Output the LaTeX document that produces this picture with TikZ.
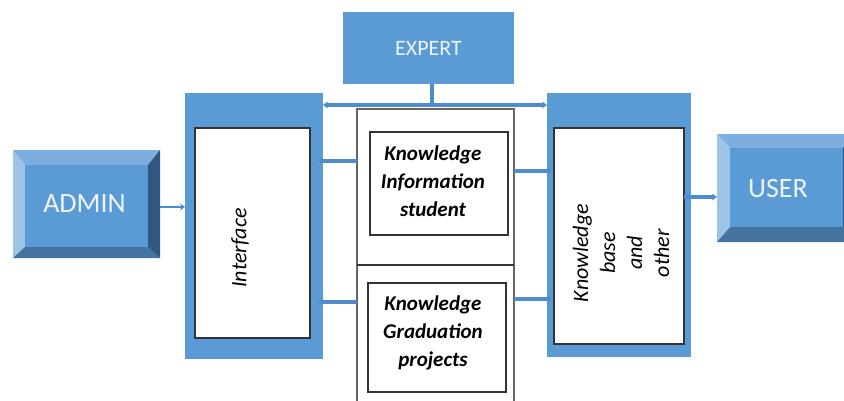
\documentclass[tikz,border=0pt]{standalone}
\usepackage{fontspec}
\setmainfont{Carlito}
\usetikzlibrary{arrows.meta,backgrounds}
\definecolor{face}{HTML}{5B9BD5}
\definecolor{bvtop}{HTML}{7DAEDF}
\definecolor{bvleft}{HTML}{9DC3E6}
\definecolor{bvbottom}{HTML}{44739F}
\definecolor{bvright}{HTML}{30577F}
\definecolor{lineblue}{HTML}{4F8CCB}
\definecolor{facetext}{HTML}{EEF3FA}
\newcommand{\mybevel}[2]{%
  \begin{scope}[on background layer]
    \fill[bvtop] (#1.north west) -- (#1.north east) -- (#2.north east) -- (#2.north west) -- cycle;
    \fill[bvleft] (#1.north west) -- (#2.north west) -- (#2.south west) -- (#1.south west) -- cycle;
    \fill[bvbottom] (#1.south west) -- (#2.south west) -- (#2.south east) -- (#1.south east) -- cycle;
    \fill[bvright] (#1.north east) -- (#2.north east) -- (#2.south east) -- (#1.south east) -- cycle;
  \end{scope}}
\begin{document}
\begin{tikzpicture}[x=1pt,y=-1pt,
  outerbox/.style={inner sep=0pt,outer sep=0pt},
  facebox/.style={fill=face,inner sep=0pt,outer sep=0pt},
  bluebox/.style={fill=face,inner sep=0pt,outer sep=0pt},
  whitebox/.style={fill=white,draw=black!80,line width=1.3pt,inner sep=0pt,outer sep=0pt},
  graybox/.style={draw=black!60,line width=1.2pt,inner sep=0pt,outer sep=0pt},
  bigtext/.style={text=facetext,font=\fontsize{28}{30}\selectfont},
  kntext/.style={align=center,font=\fontsize{21}{28}\selectfont\bfseries\itshape},
  vtext/.style={align=center,rotate=90,font=\fontsize{22}{27}\selectfont\itshape},
  conn/.style={draw=lineblue,line width=3.5pt},
  arr/.style={-{Stealth[length=5pt,width=7pt]}}
]
\useasboundingbox (0,0) rectangle (844,400);

% ADMIN
\node[outerbox,minimum width=147pt,minimum height=108pt] (admin) at (86.5,204) {};
\node[facebox,minimum width=123pt,minimum height=82pt] (adminf) at (86.5,206) {};
\mybevel{admin}{adminf}
\node[bigtext] (admintext) at (84.5,204) {ADMIN};

% USER
\node[outerbox,minimum width=139pt,minimum height=108pt] (user) at (786.5,188) {};
\node[facebox,minimum width=113pt,minimum height=79pt] (userf) at (786.5,187.5) {};
\mybevel{user}{userf}
\node[bigtext] (usertext) at (778,189) {USER};

% EXPERT
\node[bluebox,minimum width=171pt,minimum height=72pt,text=facetext,font=\fontsize{22}{26}\selectfont] (expert) at (428.5,48) {EXPERT};

% Interface
\node[bluebox,minimum width=138pt,minimum height=266pt] (iface) at (254,226) {};
\node[whitebox,minimum width=115pt,minimum height=210pt] (ifacein) at (252.5,233) {};
\node[vtext] (ifacetext) at (240,248) {Interface};

% Knowledge base
\node[bluebox,minimum width=144pt,minimum height=264pt] (kb) at (619,225) {};
\node[whitebox,minimum width=130pt,minimum height=216pt] (kbin) at (619,236) {};
\node[vtext] (kbtext) at (621,253) {Knowledge\\base\\and\\other};

% Middle column
\node[graybox,minimum width=157pt,minimum height=301pt] (mid) at (435.5,259.5) {};
\coordinate (ydiv) at (0,265);
\draw[black!80,line width=1.2pt] (mid.west |- ydiv) -- (mid.east |- ydiv);
\node[whitebox,minimum width=138pt,minimum height=103pt] (kinfo) at (439,183.5) {};
\node[kntext] (kinfotext) at (433,181) {Knowledge\\Information\\student};
\node[whitebox,minimum width=138pt,minimum height=109pt] (kgrad) at (437,337.5) {};
\node[kntext] (kgradtext) at (433,333) {Knowledge\\Graduation\\projects};

% connectors
\coordinate (hub) at (432,105);
\draw[conn] (expert.south -| hub) -- (hub);
\draw[conn,arr] (hub) -- (iface.east |- hub);
\draw[conn,arr] (hub) -- (kb.west |- hub);

\coordinate (r1) at (0,161);
\coordinate (r2) at (0,302);
\coordinate (r3) at (0,171);
\coordinate (r4) at (0,299);
\coordinate (r5) at (0,197);
\coordinate (r6) at (0,207);
\draw[conn,arr,shorten >=-5pt] (mid.west |- r1) -- (iface.east |- r1);
\draw[conn,arr,shorten >=-5pt] (mid.west |- r2) -- (iface.east |- r2);
\draw[conn,arr,shorten >=-5pt] (mid.east |- r3) -- (kb.west |- r3);
\draw[conn,arr,shorten >=-5pt] (mid.east |- r4) -- (kb.west |- r4);
\draw[conn,arr] (kbin.east |- r5) -- (user.west |- r5);
\draw[conn,line width=2.6pt,arr] (admin.east |- r6) -- (iface.west |- r6);
\end{tikzpicture}
\end{document}
